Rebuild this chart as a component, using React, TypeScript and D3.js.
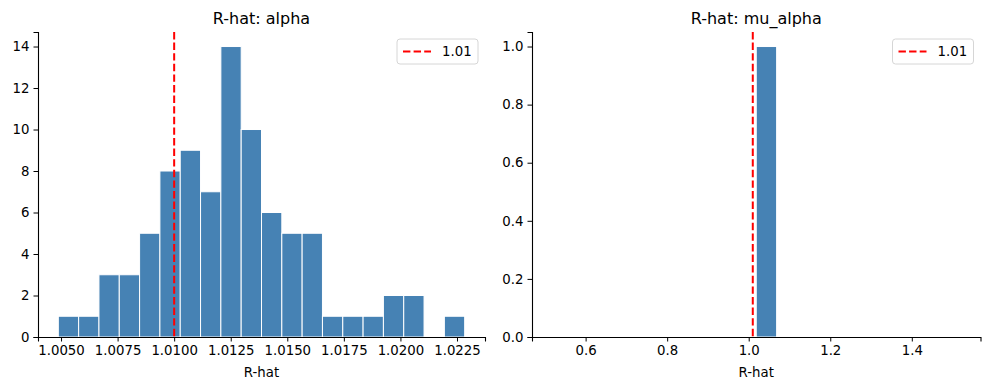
import { useEffect, useRef } from 'react';
import * as d3 from 'd3';

// left panel: R-hat of alpha, 20 bins
const alphaBinStart = 1.00488;
const alphaBinWidth = 0.000898;
const alphaCounts = [1, 1, 3, 3, 5, 8, 9, 7, 14, 10, 6, 5, 5, 1, 1, 1, 2, 2, 0, 1];
const alphaXTicks = [1.005, 1.0075, 1.01, 1.0125, 1.015, 1.0175, 1.02, 1.0225];
const alphaYTicks = [0, 2, 4, 6, 8, 10, 12, 14];

// right panel: single R-hat value for mu_alpha
const muValue = 1.0185;
const muCount = 1;
const muXTicks = [0.6, 0.8, 1.0, 1.2, 1.4];
const muYTicks = [0, 0.2, 0.4, 0.6, 0.8, 1.0];

const threshold = 1.01;

const FONT = 'DejaVu Sans, sans-serif';

const App = () => {
  const svgRef = useRef(null);

  useEffect(() => {
    const svg = d3.select(svgRef.current);
    svg.selectAll('*').remove();

    const drawPanel = (opts) => {
      const { left, right, top, bottom, bins, xTicks, yTicks, xFmt, yFmt, title } = opts;

      // matplotlib style 5% margins on x, 5% headroom on y
      const lo = d3.min(bins, d => d.x0);
      const hi = d3.max(bins, d => d.x1);
      const pad = (hi - lo) * 0.05;
      const ymax = d3.max(bins, d => d.count) * 1.05;

      const x = d3.scaleLinear().domain([lo - pad, hi + pad]).range([left, right]);
      const y = d3.scaleLinear().domain([0, ymax]).range([bottom, top]);

      const g = svg.append('g');

      g.selectAll('rect.bar')
        .data(bins.filter(d => d.count > 0))
        .enter()
        .append('rect')
        .attr('class', 'bar')
        .attr('x', d => x(d.x0))
        .attr('y', d => y(d.count))
        .attr('width', d => x(d.x1) - x(d.x0))
        .attr('height', d => y(0) - y(d.count))
        .attr('fill', '#4682b4')
        .attr('stroke', '#ffffff')
        .attr('stroke-width', 1);

      // threshold line
      g.append('line')
        .attr('x1', x(threshold)).attr('x2', x(threshold))
        .attr('y1', top).attr('y2', bottom)
        .attr('stroke', 'red')
        .attr('stroke-width', 2)
        .attr('stroke-dasharray', '7.4,3.2');

      // axes
      const xAxis = g.append('g')
        .attr('transform', `translate(0,${bottom})`)
        .call(d3.axisBottom(x).tickValues(xTicks).tickFormat(xFmt).tickSizeOuter(0).tickSize(4.5).tickPadding(4));
      const yAxis = g.append('g')
        .attr('transform', `translate(${left},0)`)
        .call(d3.axisLeft(y).tickValues(yTicks).tickFormat(yFmt).tickSizeOuter(0).tickSize(4.5).tickPadding(4));

      [xAxis, yAxis].forEach(a => {
        a.selectAll('text').style('font-family', FONT).style('font-size', '13.3px').attr('fill', '#000');
        a.selectAll('line').attr('stroke', '#000').attr('stroke-width', 1);
        a.select('.domain').attr('stroke', '#000').attr('stroke-width', 1.1);
      });

      g.append('text')
        .attr('x', (left + right) / 2)
        .attr('y', 377)
        .attr('text-anchor', 'middle')
        .style('font-family', FONT)
        .style('font-size', '13.3px')
        .text('R-hat');

      g.append('text')
        .attr('x', (left + right) / 2)
        .attr('y', 24)
        .attr('text-anchor', 'middle')
        .style('font-family', FONT)
        .style('font-size', '16px')
        .text(title);

      // legend
      const lx = right - 88;
      const ly = top + 7;
      g.append('rect')
        .attr('x', lx).attr('y', ly)
        .attr('width', 81).attr('height', 25)
        .attr('rx', 3)
        .attr('fill', '#fff')
        .attr('fill-opacity', 0.8)
        .attr('stroke', '#d6d6d6');
      g.append('line')
        .attr('x1', lx + 6).attr('x2', lx + 34)
        .attr('y1', ly + 12.5).attr('y2', ly + 12.5)
        .attr('stroke', 'red')
        .attr('stroke-width', 2)
        .attr('stroke-dasharray', '7.4,3.2');
      g.append('text')
        .attr('x', lx + 45)
        .attr('y', ly + 17)
        .style('font-family', FONT)
        .style('font-size', '13.3px')
        .text(String(threshold));
    };

    const alphaBins = alphaCounts.map((c, i) => ({
      x0: alphaBinStart + i * alphaBinWidth,
      x1: alphaBinStart + (i + 1) * alphaBinWidth,
      count: c,
    }));

    // numpy-style: single value gets range v-0.5..v+0.5 split into 20 bins
    const muBins = d3.range(20).map(i => {
      const x0 = muValue - 0.5 + i * 0.05;
      return { x0, x1: x0 + 0.05, count: i === 10 ? muCount : 0 };
    });

    drawPanel({
      left: 38, right: 485, top: 32, bottom: 337,
      bins: alphaBins, xTicks: alphaXTicks, yTicks: alphaYTicks,
      xFmt: d3.format('.4f'), yFmt: d3.format('d'),
      title: 'R-hat: alpha',
    });
    drawPanel({
      left: 532, right: 980.5, top: 32, bottom: 337,
      bins: muBins, xTicks: muXTicks, yTicks: muYTicks,
      xFmt: d3.format('.1f'), yFmt: d3.format('.1f'),
      title: 'R-hat: mu_alpha',
    });
  }, []);

  return (
    <svg
      ref={svgRef}
      width={989}
      height={390}
      style={{ position: 'absolute', left: 0, top: 0, background: '#fff' }}
    />
  );
};

export default App;
